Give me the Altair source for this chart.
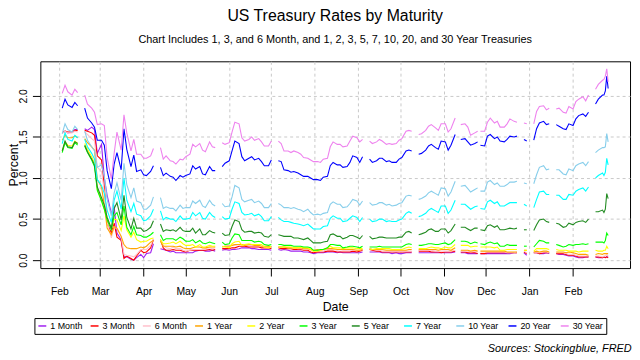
import altair as alt
import pandas as pd

# ---------------- categories / labels ----------------
series_names = ["1 Month", "3 Month", "6 Month", "1 Year", "2 Year", "3 Year",
                "5 Year", "7 Year", "10 Year", "20 Year", "30 Year"]
series_colors = ["#A020F0", "#FF0000", "#FFC0CB", "#FFA500", "#FFFF00", "#00FF00",
                 "#228B22", "#00FFFF", "#87CEEB", "#0000FF", "#EE82EE"]

title_text = "US Treasury Rates by Maturity"
subtitle_text = "Chart Includes 1, 3, and 6 Month, and 1, 2, 3, 5, 7, 10, 20, and 30 Year Treasuries"
source_text = "Sources: Stockingblue, FRED"

# sampled trading dates: Mon/Wed/Fri plus a few extra days; market holidays break the lines
start_date = "2020-02-03"
end_date = "2021-02-26"
extra_days = ["2020-11-26", "2021-02-23", "2021-02-25"]
holidays = ["2020-02-17", "2020-04-10", "2020-05-25", "2020-07-03", "2020-09-07",
            "2020-10-12", "2020-11-11", "2020-11-26", "2020-12-25", "2021-01-01",
            "2021-01-18", "2021-02-15"]

month_ticks = [(2020, 2), (2020, 3), (2020, 4), (2020, 5), (2020, 6), (2020, 7),
               (2020, 8), (2020, 9), (2020, 10), (2020, 11), (2020, 12),
               (2021, 1), (2021, 2)]
y_ticks = [0.0, 0.5, 1.0, 1.5, 2.0]

# ---------------- series values (percent) ----------------
m1 = [1.55,1.57,1.55,1.56,1.59,1.59,
      1.60,1.58,1.62,1.59,1.30,1.41,1.00,0.79,0.57,0.65,0.33,0.25,0.04,0.04,0.01,0.00,0.03,0.07,0.03,0.08,0.09,0.20,
      0.14,0.13,0.12,0.10,0.11,0.09,0.09,0.09,0.09,0.09,0.09,0.11,0.12,0.12,0.11,0.11,0.12,0.11,
      0.12,0.13,0.12,0.13,0.13,0.14,0.15,0.15,0.15,0.14,0.14,0.13,0.13,0.13,0.13,0.12,
      0.13,0.12,0.13,0.12,0.11,0.11,0.11,0.11,0.10,0.10,0.09,0.08,0.09,0.09,0.09,0.10,0.10,0.10,0.09,0.10,0.09,0.09,0.09,0.09,0.09,0.09,0.10,
      0.10,0.10,0.10,0.10,0.09,0.09,0.09,0.08,0.09,0.08,0.08,0.09,0.09,0.09,
      0.09,0.09,0.09,0.09,0.09,0.09,0.09,0.09,0.09,0.09,0.09,0.10,
      0.09,0.09,0.08,0.08,0.08,0.08,
      0.08,0.08,0.08,0.08,0.08,0.08,0.08,0.08,0.08,0.08,0.09,0.09,
      0.09,0.06,
      0.09,0.09,0.08,0.08,0.09,0.08,
      0.08,0.07,0.07,0.06,0.05,0.05,0.04,0.03,0.03,0.04,0.04,
      0.04,0.03,0.03,0.04,0.03,0.04,0.04]
m3 = [1.55,1.57,1.56,1.56,1.58,1.58,
      1.58,1.57,1.55,1.52,1.27,1.22,0.89,0.45,0.33,0.45,0.28,0.24,0.02,0.05,0.02,0.00,0.05,0.12,0.09,0.10,0.15,0.25,
      0.25,0.15,0.12,0.12,0.13,0.12,0.12,0.11,0.10,0.12,0.12,0.12,0.12,0.12,0.12,0.13,0.12,0.13,
      0.14,0.14,0.14,0.15,0.15,0.17,0.17,0.17,0.16,0.16,0.16,0.16,0.15,0.15,0.15,0.14,
      0.15,0.14,0.14,0.14,0.14,0.13,0.13,0.13,0.12,0.12,0.10,0.09,0.10,0.10,0.10,0.11,0.11,0.11,0.10,0.10,0.10,0.10,0.10,0.11,0.10,0.11,0.12,
      0.13,0.12,0.11,0.11,0.10,0.10,0.10,0.10,0.10,0.10,0.10,0.10,0.10,0.10,
      0.11,0.11,0.11,0.11,0.10,0.10,0.10,0.09,0.10,0.10,0.10,0.11,
      0.10,0.10,0.09,0.09,0.09,0.08,
      0.08,0.08,0.09,0.09,0.09,0.09,0.09,0.09,0.09,0.09,0.09,0.09,
      0.10,0.08,
      0.09,0.09,0.08,0.09,0.09,0.09,
      0.08,0.08,0.08,0.07,0.06,0.06,0.05,0.04,0.04,0.04,0.04,
      0.04,0.04,0.03,0.04,0.03,0.04,0.03]
m6 = [1.54,1.57,1.55,1.55,1.57,1.56,
      1.56,1.53,1.48,1.45,1.13,1.08,0.83,0.46,0.27,0.41,0.38,0.29,0.07,0.06,0.05,0.04,0.07,0.13,0.13,0.13,0.18,0.26,
      0.25,0.18,0.15,0.14,0.16,0.14,0.14,0.12,0.11,0.12,0.13,0.13,0.13,0.13,0.14,0.15,0.14,0.15,
      0.16,0.17,0.18,0.18,0.18,0.19,0.18,0.18,0.18,0.18,0.18,0.18,0.17,0.16,0.17,0.16,
      0.16,0.16,0.16,0.15,0.15,0.15,0.14,0.14,0.14,0.14,0.12,0.11,0.12,0.11,0.11,0.13,0.13,0.13,0.12,0.13,0.12,0.12,0.12,0.12,0.12,0.12,0.13,
      0.14,0.13,0.12,0.12,0.11,0.11,0.11,0.11,0.11,0.11,0.11,0.11,0.11,0.11,
      0.12,0.12,0.12,0.12,0.12,0.11,0.11,0.11,0.11,0.11,0.11,0.12,
      0.11,0.11,0.11,0.10,0.11,0.10,
      0.10,0.10,0.10,0.10,0.10,0.10,0.10,0.10,0.09,0.09,0.09,0.10,
      0.11,0.09,
      0.09,0.09,0.09,0.10,0.10,0.09,
      0.09,0.09,0.09,0.08,0.07,0.07,0.06,0.05,0.05,0.05,0.05,
      0.05,0.05,0.04,0.05,0.05,0.07,0.05]
y1 = [1.46,1.52,1.49,1.49,1.51,1.49,
      1.48,1.43,1.38,1.34,0.98,0.89,0.67,0.39,0.31,0.41,0.39,0.29,0.19,0.15,0.14,0.14,0.14,0.16,0.15,0.17,0.22,0.24,
      0.23,0.17,0.17,0.17,0.17,0.16,0.17,0.15,0.14,0.14,0.15,0.16,0.16,0.15,0.15,0.16,0.16,0.16,
      0.16,0.17,0.17,0.18,0.19,0.19,0.19,0.18,0.19,0.19,0.18,0.18,0.17,0.17,0.17,0.16,
      0.16,0.16,0.16,0.15,0.15,0.15,0.15,0.15,0.14,0.14,0.13,0.12,0.13,0.12,0.13,0.14,0.14,0.14,0.13,0.13,0.13,0.13,0.13,0.13,0.12,0.12,0.13,
      0.14,0.13,0.13,0.13,0.13,0.12,0.12,0.12,0.12,0.12,0.12,0.12,0.13,0.13,
      0.13,0.13,0.13,0.13,0.13,0.13,0.12,0.13,0.13,0.13,0.12,0.15,
      0.12,0.12,0.12,0.11,0.12,0.11,
      0.11,0.11,0.11,0.11,0.11,0.11,0.11,0.11,0.10,0.10,0.10,0.10,
      0.12,0.12,
      0.10,0.11,0.10,0.11,0.11,0.10,
      0.10,0.10,0.10,0.09,0.10,0.09,0.08,0.07,0.07,0.07,0.06,
      0.07,0.08,0.07,0.08,0.08,0.08,0.08]
y2 = [1.33,1.44,1.40,1.39,1.45,1.42,
      1.42,1.35,1.26,1.18,0.86,0.73,0.62,0.49,0.38,0.50,0.49,0.36,0.54,0.37,0.28,0.34,0.25,0.22,0.23,0.23,0.26,0.27,
      0.25,0.20,0.20,0.21,0.22,0.20,0.23,0.20,0.18,0.18,0.19,0.16,0.19,0.16,0.16,0.18,0.17,0.17,
      0.17,0.16,0.15,0.20,0.22,0.23,0.18,0.19,0.20,0.19,0.19,0.19,0.19,0.16,0.15,0.17,
      0.16,0.16,0.16,0.16,0.16,0.15,0.15,0.16,0.15,0.15,0.13,0.11,0.11,0.12,0.13,0.15,0.17,0.15,0.15,0.15,0.14,0.15,0.15,0.15,0.14,0.14,0.14,
      0.14,0.13,0.14,0.14,0.14,0.14,0.14,0.13,0.13,0.13,0.13,0.15,0.16,0.15,
      0.14,0.14,0.14,0.15,0.16,0.15,0.15,0.14,0.16,0.15,0.15,0.19,
      0.18,0.18,0.18,0.16,0.17,0.17,
      0.16,0.16,0.16,0.16,0.15,0.16,0.12,0.12,0.13,0.13,0.13,0.13,
      0.12,0.12,
      0.11,0.14,0.14,0.14,0.14,0.13,
      0.13,0.12,0.12,0.12,0.11,0.11,0.11,0.10,0.11,0.11,0.11,
      0.12,0.11,0.11,0.12,0.12,0.17,0.14]
y3 = [1.31,1.43,1.37,1.36,1.43,1.40,
      1.39,1.31,1.22,1.14,0.85,0.72,0.62,0.49,0.37,0.54,0.58,0.43,0.66,0.40,0.31,0.41,0.31,0.30,0.28,0.28,0.31,0.34,
      0.31,0.24,0.26,0.26,0.26,0.24,0.28,0.26,0.23,0.23,0.25,0.21,0.24,0.21,0.20,0.22,0.21,0.20,
      0.22,0.19,0.20,0.27,0.32,0.31,0.24,0.24,0.24,0.24,0.22,0.23,0.22,0.19,0.18,0.19,
      0.19,0.19,0.18,0.18,0.18,0.17,0.17,0.17,0.16,0.16,0.15,0.12,0.12,0.13,0.13,0.15,0.19,0.19,0.18,0.18,0.15,0.16,0.17,0.17,0.16,0.15,0.17,
      0.16,0.16,0.16,0.17,0.16,0.16,0.16,0.16,0.16,0.16,0.16,0.19,0.20,0.19,
      0.18,0.18,0.19,0.20,0.20,0.19,0.19,0.20,0.21,0.19,0.20,0.25,
      0.23,0.23,0.22,0.20,0.22,0.21,
      0.20,0.19,0.21,0.22,0.20,0.21,0.17,0.17,0.19,0.18,0.18,0.18,
      0.17,0.17,
      0.16,0.20,0.24,0.23,0.21,0.21,
      0.19,0.18,0.16,0.17,0.19,0.18,0.19,0.19,0.20,0.19,0.20,
      0.22,0.22,0.22,0.21,0.24,0.33,0.30]
y5 = [1.33,1.45,1.38,1.37,1.44,1.42,
      1.40,1.32,1.23,1.16,0.89,0.76,0.67,0.52,0.39,0.63,0.70,0.49,0.79,0.52,0.38,0.51,0.39,0.39,0.35,0.36,0.40,0.48,
      0.44,0.35,0.37,0.36,0.37,0.35,0.40,0.36,0.35,0.35,0.39,0.33,0.38,0.31,0.31,0.36,0.34,0.33,
      0.33,0.30,0.31,0.41,0.49,0.47,0.37,0.34,0.35,0.35,0.33,0.34,0.33,0.29,0.28,0.31,
      0.31,0.30,0.29,0.29,0.29,0.27,0.27,0.26,0.25,0.27,0.24,0.21,0.21,0.21,0.22,0.23,0.31,0.32,0.29,0.29,0.26,0.28,0.30,0.30,0.28,0.26,0.30,
      0.29,0.26,0.27,0.28,0.28,0.27,0.27,0.27,0.27,0.28,0.28,0.34,0.35,0.33,
      0.31,0.32,0.34,0.37,0.38,0.35,0.35,0.38,0.38,0.33,0.36,0.44,
      0.40,0.40,0.38,0.36,0.39,0.39,
      0.37,0.36,0.42,0.43,0.40,0.42,0.37,0.37,0.38,0.39,0.38,0.39,
      0.37,0.37,
      0.36,0.43,0.49,0.50,0.47,0.46,
      0.45,0.44,0.40,0.41,0.45,0.43,0.46,0.47,0.48,0.46,0.50,
      0.59,0.59,0.61,0.58,0.62,0.81,0.75]
y7 = [1.42,1.55,1.47,1.45,1.52,1.49,
      1.47,1.38,1.30,1.23,0.98,0.91,0.81,0.61,0.46,0.73,0.84,0.62,1.00,0.73,0.59,0.69,0.56,0.54,0.48,0.49,0.54,0.62,
      0.60,0.49,0.52,0.50,0.50,0.47,0.54,0.50,0.50,0.51,0.58,0.54,0.58,0.51,0.50,0.58,0.54,0.52,
      0.53,0.50,0.51,0.62,0.71,0.69,0.58,0.55,0.56,0.57,0.54,0.56,0.53,0.48,0.48,0.53,
      0.52,0.49,0.47,0.47,0.46,0.45,0.44,0.43,0.42,0.44,0.41,0.38,0.38,0.38,0.41,0.42,0.51,0.54,0.51,0.51,0.47,0.48,0.51,0.54,0.52,0.47,0.52,
      0.50,0.47,0.48,0.50,0.50,0.47,0.48,0.47,0.47,0.49,0.50,0.57,0.59,0.57,
      0.53,0.54,0.57,0.61,0.63,0.60,0.58,0.66,0.66,0.57,0.61,0.73,
      0.68,0.68,0.65,0.62,0.65,0.66,
      0.63,0.62,0.71,0.73,0.69,0.71,0.66,0.66,0.68,0.70,0.70,0.70,
      0.68,0.66,
      0.64,0.74,0.83,0.84,0.80,0.80,
      0.79,0.79,0.74,0.74,0.80,0.79,0.84,0.86,0.88,0.84,0.89,
      1.00,1.03,1.06,1.03,1.07,1.24,1.16]
y10 = [1.54,1.66,1.59,1.56,1.63,1.59,
       1.57,1.46,1.38,1.33,1.13,1.16,1.02,0.74,0.54,0.82,0.94,0.73,1.18,0.92,0.76,0.88,0.72,0.70,0.62,0.62,0.67,0.77,
       0.76,0.63,0.65,0.63,0.63,0.60,0.67,0.63,0.64,0.64,0.72,0.69,0.73,0.66,0.64,0.73,0.68,0.66,
       0.69,0.65,0.66,0.77,0.91,0.88,0.74,0.71,0.73,0.74,0.70,0.72,0.69,0.64,0.64,0.69,
       0.69,0.67,0.64,0.64,0.63,0.64,0.62,0.61,0.59,0.62,0.58,0.55,0.56,0.55,0.57,0.58,0.68,0.71,0.68,0.68,0.64,0.65,0.69,0.74,0.72,0.67,0.72,
       0.70,0.67,0.68,0.70,0.70,0.67,0.68,0.66,0.67,0.69,0.70,0.78,0.79,0.78,
       0.74,0.75,0.78,0.82,0.84,0.81,0.79,0.88,0.87,0.78,0.83,0.96,
       0.90,0.91,0.87,0.83,0.86,0.88,
       0.84,0.84,0.95,0.97,0.92,0.94,0.90,0.90,0.92,0.95,0.95,0.96,
       0.94,0.93,
       0.93,1.04,1.13,1.15,1.10,1.11,
       1.10,1.10,1.05,1.04,1.11,1.09,1.15,1.17,1.19,1.15,1.20,
       1.31,1.34,1.37,1.37,1.38,1.54,1.44]
y20 = [1.85,1.96,1.89,1.86,1.92,1.88,
       1.85,1.73,1.67,1.62,1.46,1.46,1.40,1.09,0.87,1.17,1.31,1.10,1.60,1.35,1.14,1.28,1.08,1.10,1.04,1.03,1.08,1.15,
       1.13,1.03,1.06,1.02,1.01,0.97,1.03,1.01,1.03,1.05,1.15,1.11,1.14,1.05,1.04,1.14,1.09,1.09,
       1.14,1.18,1.21,1.33,1.45,1.42,1.26,1.21,1.24,1.26,1.22,1.24,1.20,1.15,1.15,1.22,
       1.21,1.20,1.10,1.09,1.07,1.08,1.06,1.04,1.02,1.02,1.00,0.98,0.98,0.97,1.01,1.02,1.15,1.19,1.16,1.16,1.13,1.14,1.19,1.27,1.25,1.19,1.26,
       1.23,1.19,1.21,1.24,1.24,1.20,1.21,1.19,1.19,1.23,1.25,1.33,1.34,1.33,
       1.29,1.30,1.34,1.39,1.41,1.37,1.35,1.45,1.44,1.34,1.40,1.53,
       1.47,1.48,1.44,1.40,1.42,1.44,
       1.40,1.39,1.51,1.53,1.48,1.50,1.45,1.44,1.47,1.51,1.50,1.51,
       1.47,1.45,
       1.46,1.60,1.67,1.69,1.65,1.66,
       1.65,1.63,1.60,1.59,1.66,1.64,1.72,1.76,1.78,1.75,1.80,
       1.90,1.96,2.01,2.01,2.06,2.24,2.09]
y30 = [2.03,2.13,2.05,2.01,2.08,2.04,
       2.01,1.90,1.85,1.80,1.65,1.66,1.64,1.25,0.99,1.30,1.56,1.34,1.77,1.55,1.33,1.47,1.29,1.29,1.24,1.24,1.27,1.36,
       1.37,1.23,1.27,1.21,1.20,1.17,1.23,1.22,1.26,1.29,1.41,1.38,1.42,1.34,1.32,1.44,1.38,1.37,
       1.43,1.41,1.43,1.56,1.68,1.66,1.49,1.45,1.47,1.50,1.46,1.48,1.44,1.39,1.39,1.45,
       1.45,1.42,1.33,1.33,1.31,1.33,1.31,1.29,1.25,1.24,1.22,1.20,1.20,1.19,1.23,1.24,1.38,1.44,1.41,1.41,1.38,1.39,1.45,1.51,1.49,1.44,1.47,
       1.45,1.42,1.44,1.47,1.45,1.41,1.42,1.41,1.42,1.46,1.48,1.57,1.58,1.57,
       1.53,1.54,1.58,1.63,1.65,1.61,1.58,1.66,1.66,1.56,1.60,1.73,
       1.65,1.66,1.62,1.52,1.55,1.57,
       1.57,1.57,1.68,1.73,1.67,1.69,1.62,1.62,1.66,1.72,1.69,1.68,
       1.67,1.66,
       1.66,1.81,1.87,1.88,1.83,1.85,
       1.84,1.85,1.80,1.79,1.87,1.84,1.93,1.96,1.99,1.94,2.01,
       2.08,2.14,2.19,2.20,2.24,2.33,2.17]

series_values = [m1, m3, m6, y1, y2, y3, y5, y7, y10, y20, y30]

# ---------------- build the long table ----------------
all_days = pd.date_range(start_date, end_date, freq="D")
extra_set = set(pd.to_datetime(extra_days))
hol_set = set(pd.to_datetime(holidays))
grid = [d for d in all_days if d.weekday() in (0, 2, 4) or d in extra_set]
trade_dates = [d for d in grid if d not in hol_set]
segments = [sum(1 for h in hol_set if h < d) for d in trade_dates]

rows = []
for i, (name, vals) in enumerate(zip(series_names, series_values)):
    if len(vals) != len(trade_dates):
        raise ValueError(f"{name}: {len(vals)} values for {len(trade_dates)} dates")
    for d, v, s in zip(trade_dates, vals, segments):
        rows.append({"date": d, "series": name, "rate": v, "seg": f"{i:02d}-{s:02d}"})
df = pd.DataFrame(rows)

# ---------------- chart ----------------
W, H = 596, 209
FONT = "Liberation Sans"

x_tick_values = [alt.DateTime(year=y, month=m, date=1) for (y, m) in month_ticks]

lines = alt.Chart(df).mark_line(strokeWidth=1.1).encode(
    x=alt.X("date:T",
            scale=alt.Scale(domain=[alt.DateTime(year=2020, month=1, date=18, hours=10),
                                    alt.DateTime(year=2021, month=3, date=13, hours=14)]),
            axis=alt.Axis(values=x_tick_values, format="%b", title="Date",
                          labelFlush=False, labelOverlap=False)),
    y=alt.Y("rate:Q",
            scale=alt.Scale(domain=[-0.0966, 2.421], nice=False, zero=False),
            axis=alt.Axis(values=y_ticks, format=".1f", title="Percent",
                          labelAngle=270, labelAlign="center", labelBaseline="alphabetic",
                          labelOverlap=False,
                          titleX=-27, titleY=H / 2, titleAngle=270,
                          titleAlign="center", titleBaseline="middle")),
    color=alt.Color("series:N",
                    scale=alt.Scale(domain=series_names, range=series_colors),
                    legend=alt.Legend(orient="none", legendX=-6, legendY=259.5,
                                      direction="horizontal", columns=11, title=None,
                                      symbolType="stroke", symbolSize=64, symbolStrokeWidth=1.5,
                                      labelFont=FONT, labelFontSize=9, labelColor="black",
                                      labelOffset=3, strokeColor="black", padding=3,
                                      gridAlign="all", columnPadding=4.8)),
    detail="seg:N",
)

source = alt.Chart(pd.DataFrame({"t": [source_text]})).mark_text(
    align="right", baseline="middle", fontStyle="italic", fontSize=11,
    font=FONT, color="black"
).encode(x=alt.value(597.6), y=alt.value(291), text="t:N")

chart = alt.layer(lines, source).properties(
    width=W, height=H,
    title=alt.TitleParams(title_text, subtitle=subtitle_text, anchor="middle",
                          font=FONT, fontSize=16, fontWeight="normal", color="black",
                          subtitleFont=FONT, subtitleFontSize=11, subtitleColor="black",
                          offset=17, subtitlePadding=9.5),
    padding={"left": 32.7, "top": 52, "right": 2, "bottom": 90},
    autosize=alt.AutoSizeParams(type="none"),
).configure_view(
    stroke="black", strokeWidth=1
).configure_axis(
    domain=False, tickColor="black", tickSize=8, tickWidth=1,
    labelColor="black", labelFont=FONT, labelFontSize=10.5,
    titleFont=FONT, titleFontSize=12.5, titleFontWeight="normal", titleColor="black",
    gridColor="#C8C8C8", gridDash=[3, 3], gridWidth=1,
).configure_axisX(
    labelPadding=11, titlePadding=3
).configure_axisY(
    labelPadding=6
)

chart.save("out.html", embed_options={"renderer": "svg", "actions": False})
